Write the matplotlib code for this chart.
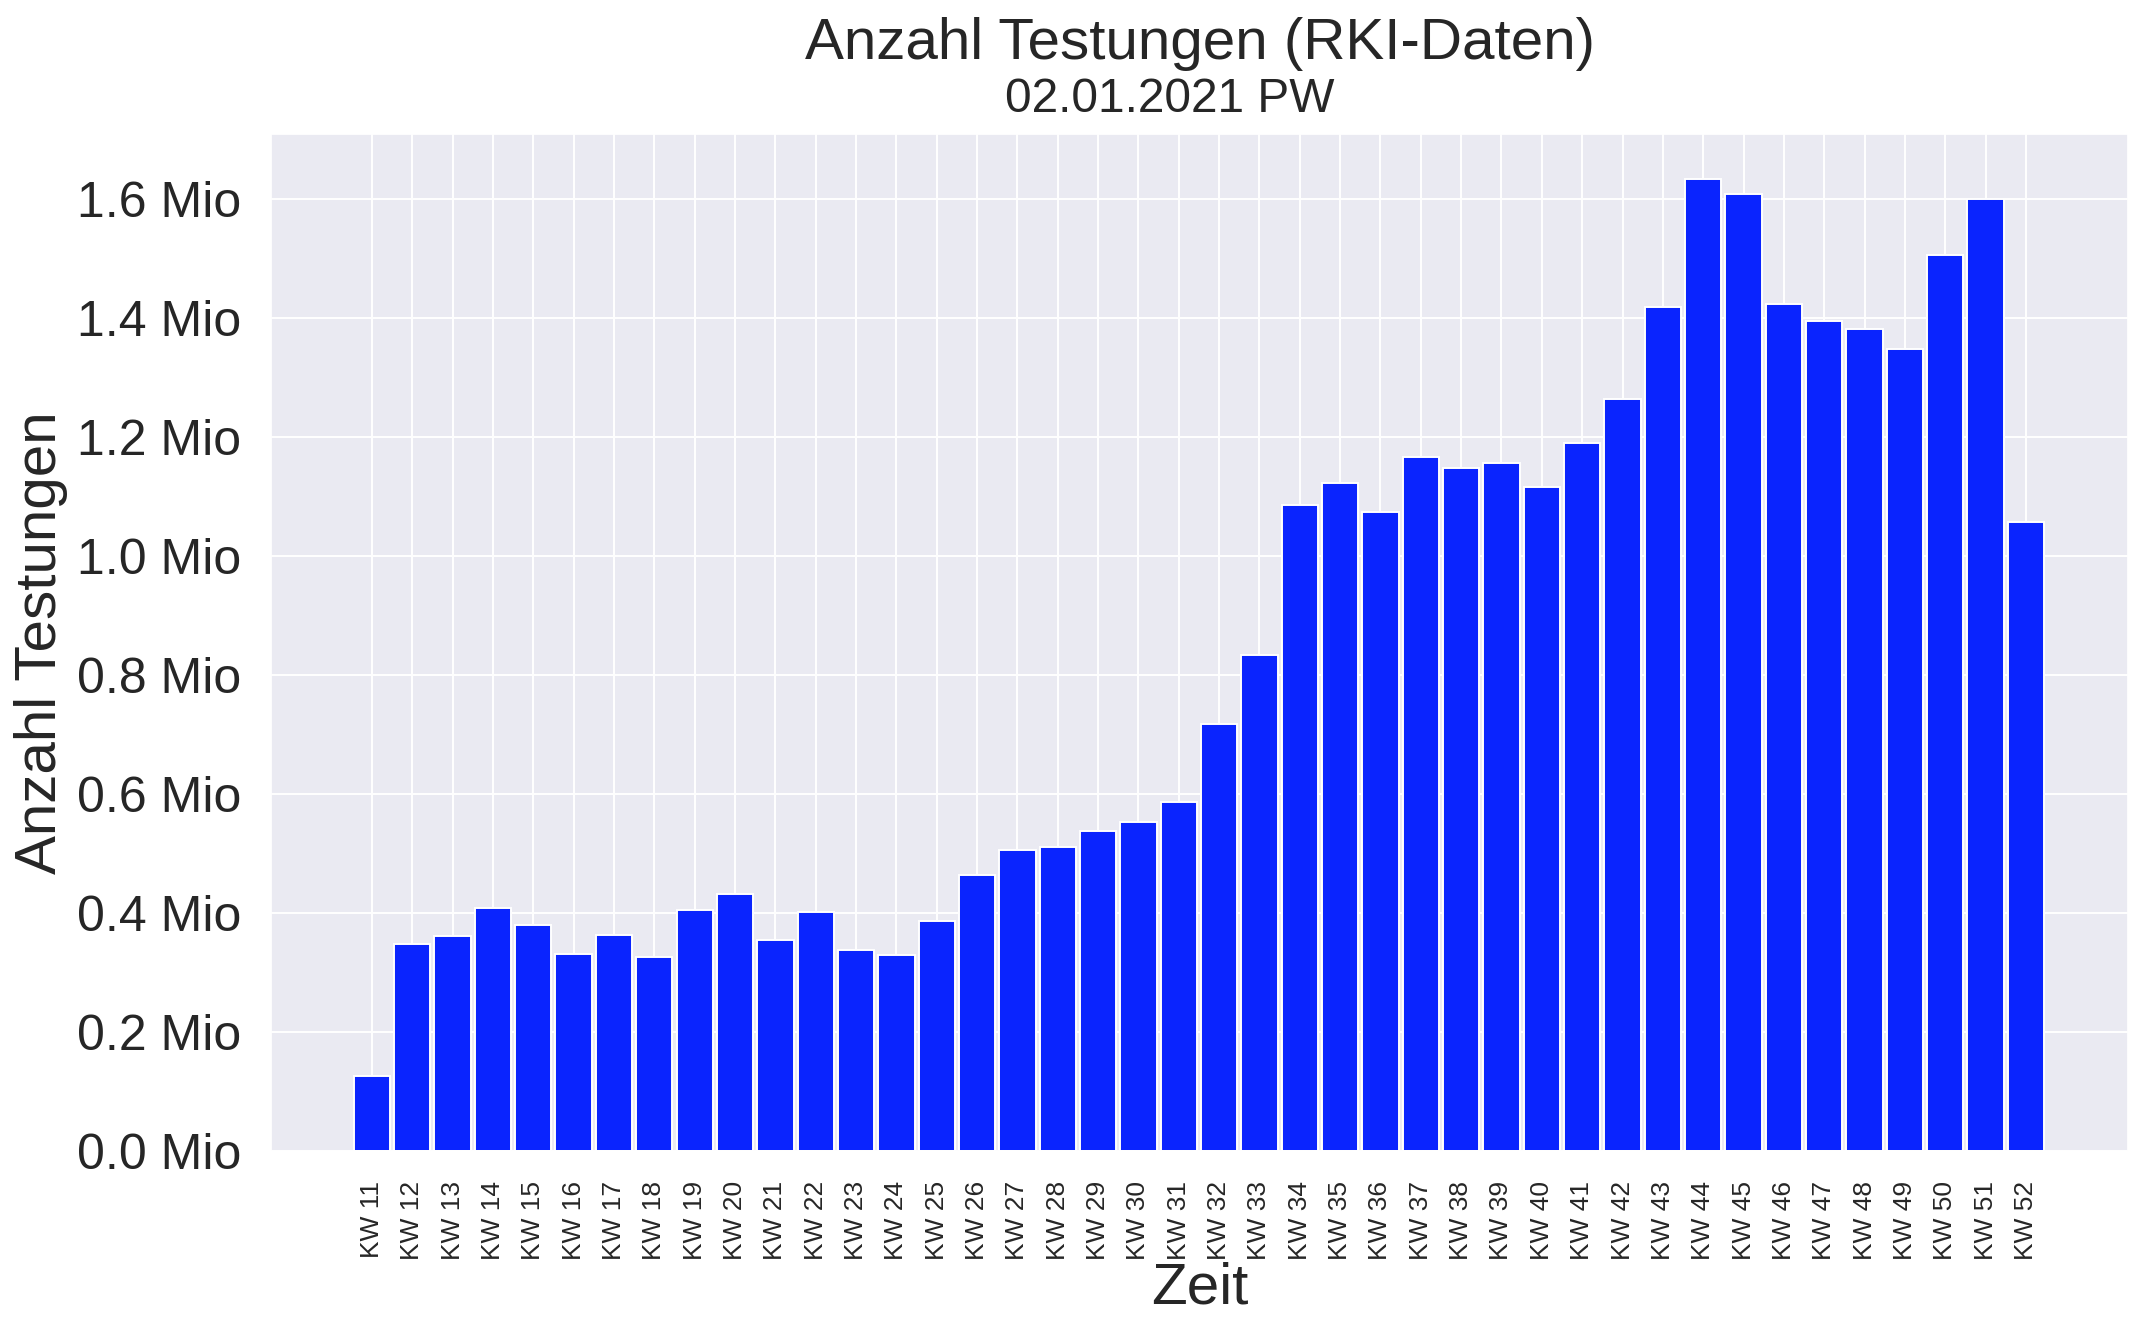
import numpy as np
import matplotlib
matplotlib.use('Agg')
import matplotlib.pyplot as plt
import seaborn as sns

# Kalenderwochen und Anzahl Testungen (in Mio)
weeks = ['KW %d' % kw for kw in range(11, 53)]
tests_mio = [0.126, 0.347, 0.361, 0.409, 0.379, 0.331, 0.363, 0.326, 0.405, 0.432,
             0.354, 0.402, 0.338, 0.329, 0.386, 0.464, 0.506, 0.510, 0.538, 0.552,
             0.586, 0.717, 0.834, 1.085, 1.122, 1.074, 1.166, 1.147, 1.156, 1.115,
             1.189, 1.264, 1.418, 1.634, 1.609, 1.423, 1.395, 1.382, 1.347, 1.506,
             1.600, 1.057]
y_ticks = [0.0, 0.2, 0.4, 0.6, 0.8, 1.0, 1.2, 1.4, 1.6]

TITLE = 'Anzahl Testungen (RKI-Daten)'
SUBTITLE = '02.01.2021 PW'
BAR_COLOR = '#0a24fe'

sns.set_theme(style='darkgrid')
plt.rcParams['font.family'] = ['Liberation Sans', 'DejaVu Sans']
plt.rcParams['text.color'] = '.15'

fig = plt.figure(figsize=(21.43, 13.38), dpi=100)
ax = fig.add_axes([0.1265, 0.1398, 0.8665, 0.7601])

x = np.arange(len(weeks))
ax.bar(x, tests_mio, width=0.9, color=BAR_COLOR, edgecolor='white', linewidth=1.4)

ax.set_xlim(-2.5, len(weeks) - 1 + 2.53)
ax.set_ylim(0, max(tests_mio) * 1.046)
ax.set_xticks(x)
ax.set_xticklabels(weeks, rotation=90, fontsize=19)
ax.set_yticks(y_ticks)
ax.set_yticklabels(['%.1f Mio' % v for v in y_ticks], fontsize=36)
ax.tick_params(axis='both', length=0, pad=21.6, colors='.15')
ax.grid(True, color='white', linewidth=1.4)

ax.set_xlabel('Zeit', fontsize=42, labelpad=1, color='.15')
ax.set_ylabel('Anzahl Testungen', fontsize=42, labelpad=6, color='.15')

# Titel und Untertitel (Untertitel leicht nach links versetzt wie im Original)
ax.text(0.5, 1.0737, TITLE, transform=ax.transAxes, ha='center', va='baseline',
        fontsize=42, color='.15')
ax.text(0.4841, 1.0216, SUBTITLE, transform=ax.transAxes, ha='center', va='baseline',
        fontsize=34.5, color='.15')

fig.savefig('out.png', dpi=100)
